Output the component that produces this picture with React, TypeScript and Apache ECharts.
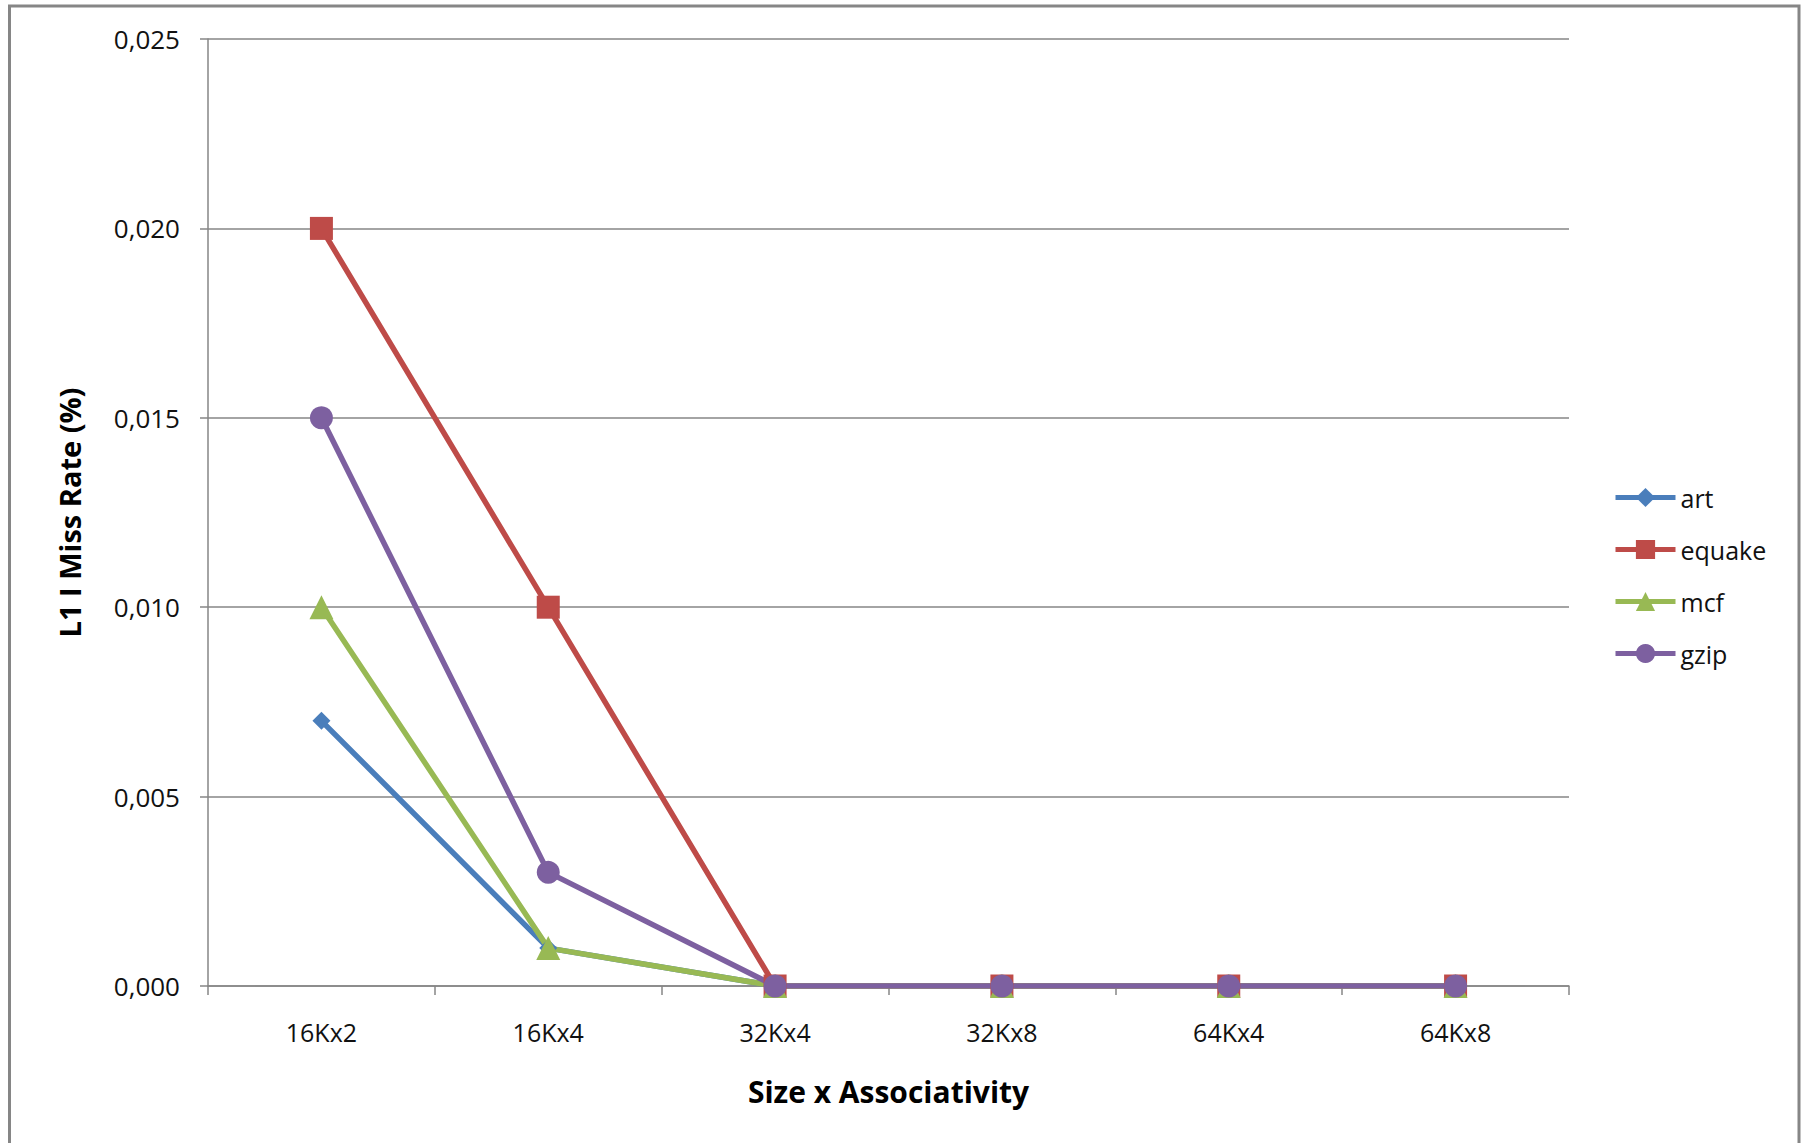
import React, { useEffect, useRef } from "react";
import * as echarts from "echarts";

const categories = ["16Kx2", "16Kx4", "32Kx4", "32Kx8", "64Kx4", "64Kx8"];
const artValues = [0.007, 0.001, 0, 0, 0, 0];
const equakeValues = [0.02, 0.01, 0, 0, 0, 0];
const mcfValues = [0.01, 0.001, 0, 0, 0, 0];
const gzipValues = [0.015, 0.003, 0, 0, 0, 0];
const yTicks = { min: 0, max: 0.025, interval: 0.005 };
const xTitle = "Size x Associativity";
const yTitle = "L1 I Miss Rate (%)";

const FONT = "'Open Sans', 'Noto Sans', sans-serif";
const GRAY = "#868686";

export default function App() {
  const ref = useRef<HTMLDivElement>(null);
  useEffect(() => {
    if (!ref.current) return;
    const chart = echarts.init(ref.current, null, { renderer: "svg" });
    const mk = (name: string, data: number[], color: string, symbol: string, size: number) => ({
      name,
      type: "line",
      data,
      symbol,
      symbolSize: size,
      showAllSymbol: true,
      lineStyle: { color, width: 5.5 },
      itemStyle: { color, borderWidth: 0 },
      emphasis: { disabled: true },
    });
    chart.setOption({
      animation: false,
      backgroundColor: "#ffffff",
      textStyle: { fontFamily: FONT },
      graphic: [
        {
          type: "rect",
          shape: { x: 9.5, y: 6, width: 1789.5, height: 1160 },
          style: { fill: "none", stroke: GRAY, lineWidth: 3 },
          silent: true,
        },
      ],
      grid: { left: 208, right: 235, top: 39, bottom: 157, containLabel: false },
      legend: {
        orient: "vertical",
        left: 1608,
        top: 480,
        itemWidth: 60,
        itemHeight: 24,
        itemGap: 27,
        lineStyle: { width: 5 },
        textStyle: { fontFamily: FONT, fontSize: 25, color: "#111" },
        data: ["art", "equake", "mcf", "gzip"],
      },
      xAxis: {
        type: "category",
        data: categories,
        boundaryGap: true,
        name: xTitle,
        nameLocation: "middle",
        nameGap: 90,
        nameTextStyle: { fontFamily: FONT, fontSize: 30, fontWeight: "bold", color: "#000" },
        axisLine: { show: true, lineStyle: { color: GRAY, width: 1.5 } },
        axisTick: { show: true, length: 9, alignWithLabel: false, lineStyle: { color: GRAY, width: 1.5 } },
        axisLabel: { fontFamily: FONT, fontSize: 25, color: "#111", margin: 33 },
        splitLine: { show: false },
      },
      yAxis: {
        type: "value",
        min: yTicks.min,
        max: yTicks.max,
        interval: yTicks.interval,
        name: yTitle,
        nameLocation: "middle",
        nameGap: 124,
        nameTextStyle: { fontFamily: FONT, fontSize: 29, fontWeight: "bold", color: "#000" },
        axisLine: { show: true, lineStyle: { color: GRAY, width: 1.5 } },
        axisTick: { show: true, length: 8, lineStyle: { color: GRAY, width: 1.5 } },
        axisLabel: {
          fontFamily: FONT,
          fontSize: 26,
          color: "#111",
          margin: 28,
          formatter: (v: number) => v.toFixed(3).replace(".", ","),
        },
        splitLine: { show: true, lineStyle: { color: GRAY, width: 1.5 } },
      },
      series: [
        mk("art", artValues, "#4A7EBB", "diamond", 18),
        mk("equake", equakeValues, "#BE4B48", "rect", 23),
        mk("mcf", mcfValues, "#98B954", "triangle", 24),
        mk("gzip", gzipValues, "#7D60A0", "circle", 23),
      ],
    });
    return () => chart.dispose();
  }, []);
  return (
    <div
      ref={ref}
      style={{ position: "fixed", left: 0, top: 0, width: 1804, height: 1143, background: "#fff" }}
    />
  );
}
